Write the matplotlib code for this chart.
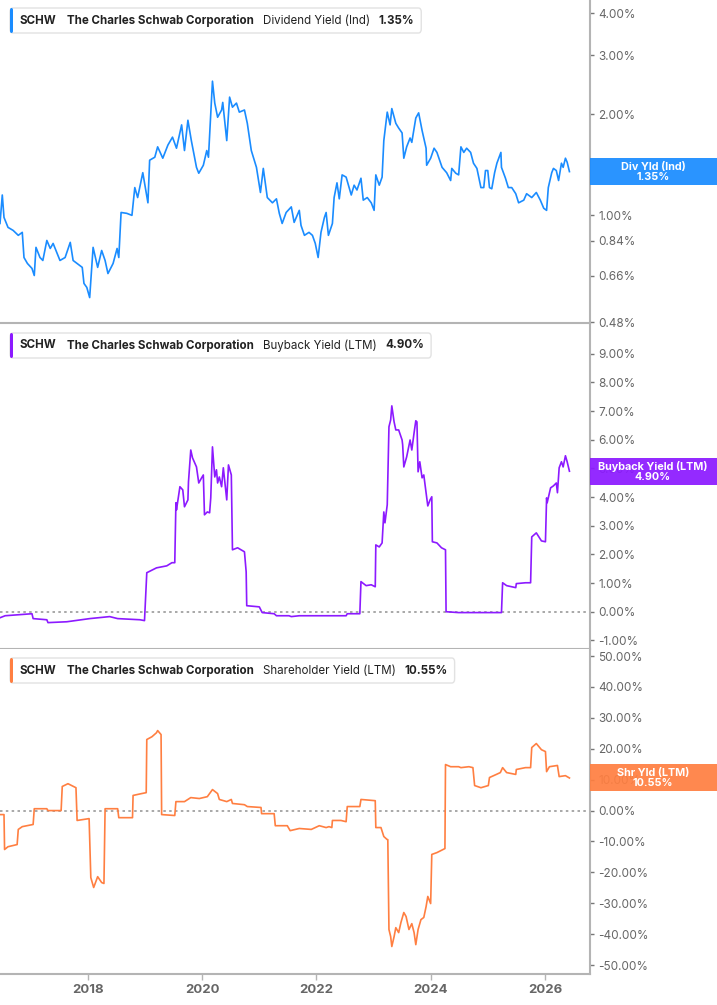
import matplotlib
matplotlib.use('Agg')
import matplotlib.pyplot as plt
from matplotlib.patches import FancyBboxPatch, Rectangle
from matplotlib.ticker import FuncFormatter, FixedLocator, NullLocator

W, H = 717, 1005
plt.rcParams['font.family'] = ['Inter', 'DejaVu Sans']

# dividend yield (indicated), %
div_years = [2016.46, 2016.50, 2016.53, 2016.60, 2016.69, 2016.78, 2016.85, 2016.88, 2016.94, 2017.02,
             2017.06, 2017.09, 2017.16, 2017.21, 2017.28, 2017.34, 2017.39, 2017.46, 2017.51, 2017.60,
             2017.69, 2017.74, 2017.81, 2017.90, 2017.93, 2017.98, 2018.03, 2018.09, 2018.17, 2018.24,
             2018.30, 2018.35, 2018.44, 2018.51, 2018.54, 2018.58, 2018.68, 2018.77, 2018.82, 2018.87,
             2018.96, 2019.05, 2019.08, 2019.17, 2019.22, 2019.31, 2019.40, 2019.48, 2019.55, 2019.64,
             2019.69, 2019.75, 2019.81, 2019.90, 2019.94, 2020.02, 2020.08, 2020.11, 2020.18, 2020.22,
             2020.27, 2020.34, 2020.36, 2020.43, 2020.48, 2020.53, 2020.60, 2020.65, 2020.74, 2020.79,
             2020.86, 2020.95, 2021.02, 2021.07, 2021.14, 2021.23, 2021.30, 2021.35, 2021.40, 2021.47,
             2021.56, 2021.61, 2021.70, 2021.73, 2021.79, 2021.87, 2021.93, 2021.98, 2022.03, 2022.08,
             2022.14, 2022.17, 2022.21, 2022.28, 2022.31, 2022.36, 2022.40, 2022.45, 2022.52, 2022.61,
             2022.66, 2022.71, 2022.78, 2022.82, 2022.89, 2022.96, 2023.01, 2023.04, 2023.10, 2023.15,
             2023.18, 2023.24, 2023.29, 2023.32, 2023.39, 2023.44, 2023.50, 2023.53, 2023.58, 2023.64,
             2023.67, 2023.74, 2023.79, 2023.85, 2023.92, 2023.93, 2024.00, 2024.06, 2024.11, 2024.20,
             2024.28, 2024.35, 2024.37, 2024.44, 2024.49, 2024.53, 2024.58, 2024.63, 2024.70, 2024.75,
             2024.81, 2024.88, 2024.93, 2024.96, 2025.00, 2025.03, 2025.07, 2025.12, 2025.16, 2025.23,
             2025.24, 2025.31, 2025.36, 2025.42, 2025.49, 2025.54, 2025.63, 2025.68, 2025.77, 2025.85,
             2025.92, 2025.98, 2026.03, 2026.06, 2026.12, 2026.15, 2026.20, 2026.24, 2026.29, 2026.32,
             2026.36, 2026.39, 2026.43]
div_vals = [0.946, 1.15, 0.986, 0.921, 0.902, 0.872, 0.890, 0.749, 0.719, 0.695,
            0.662, 0.803, 0.749, 0.734, 0.842, 0.797, 0.825, 0.770, 0.734, 0.749,
            0.831, 0.734, 0.719, 0.700, 0.627, 0.610, 0.569, 0.803, 0.700, 0.786,
            0.734, 0.671, 0.719, 0.797, 0.749, 1.02, 1.014, 1.00, 1.21, 1.13,
            1.34, 1.09, 1.46, 1.49, 1.60, 1.48, 1.62, 1.71, 1.585, 1.86,
            1.56, 1.92, 1.67, 1.39, 1.335, 1.41, 1.56, 1.49, 2.51, 2.16,
            1.96, 2.06, 2.17, 1.67, 2.25, 2.10, 2.16, 2.03, 2.06, 1.88,
            1.56, 1.39, 1.17, 1.38, 1.13, 1.09, 1.12, 1.014, 0.946, 1.02,
            1.06, 0.953, 1.035, 0.934, 0.872, 0.890, 0.872, 0.825, 0.749, 0.890,
            0.986, 1.02, 0.872, 0.946, 1.13, 1.25, 1.12, 1.32, 1.30, 1.15,
            1.23, 1.19, 1.29, 1.11, 1.13, 1.09, 1.035, 1.32, 1.23, 1.30,
            1.67, 2.03, 1.86, 2.08, 1.88, 1.82, 1.76, 1.48, 1.60, 1.70,
            1.65, 1.95, 2.02, 1.79, 1.585, 1.41, 1.48, 1.585, 1.54, 1.39,
            1.34, 1.27, 1.38, 1.335, 1.32, 1.60, 1.54, 1.585, 1.54, 1.43,
            1.38, 1.21, 1.21, 1.36, 1.36, 1.21, 1.20, 1.34, 1.43, 1.54,
            1.39, 1.29, 1.21, 1.21, 1.16, 1.09, 1.11, 1.16, 1.13, 1.17,
            1.11, 1.05, 1.035, 1.21, 1.34, 1.38, 1.36, 1.27, 1.43, 1.39,
            1.48, 1.44, 1.35]

# buyback yield (LTM), %
bb_years = [2016.46, 2016.55, 2017.02, 2017.04, 2017.28, 2017.30, 2017.63, 2018.03, 2018.38, 2018.52,
            2018.91, 2018.99, 2019.03, 2019.20, 2019.38, 2019.47, 2019.52, 2019.54, 2019.55, 2019.61,
            2019.66, 2019.69, 2019.75, 2019.76, 2019.80, 2019.83, 2019.90, 2019.94, 2019.99, 2020.02,
            2020.04, 2020.09, 2020.13, 2020.15, 2020.18, 2020.22, 2020.25, 2020.27, 2020.30, 2020.34,
            2020.37, 2020.43, 2020.46, 2020.51, 2020.53, 2020.62, 2020.74, 2020.77, 2020.78, 2021.00,
            2021.05, 2021.26, 2021.30, 2021.52, 2021.56, 2021.70, 2022.52, 2022.54, 2022.76, 2022.78,
            2022.87, 2022.96, 2023.03, 2023.04, 2023.10, 2023.15, 2023.18, 2023.20, 2023.24, 2023.27,
            2023.30, 2023.32, 2023.36, 2023.39, 2023.44, 2023.50, 2023.51, 2023.53, 2023.58, 2023.64,
            2023.67, 2023.71, 2023.74, 2023.76, 2023.78, 2023.81, 2023.85, 2023.88, 2023.92, 2023.95,
            2023.99, 2024.02, 2024.03, 2024.11, 2024.19, 2024.26, 2024.27, 2024.49, 2025.24, 2025.26,
            2025.33, 2025.49, 2025.50, 2025.66, 2025.75, 2025.77, 2025.85, 2025.94, 2026.01, 2026.03,
            2026.04, 2026.10, 2026.15, 2026.20, 2026.22, 2026.25, 2026.29, 2026.32, 2026.36, 2026.39,
            2026.43]
bb_vals = [-0.21, -0.14, -0.07, -0.24, -0.28, -0.38, -0.35, -0.24, -0.17, -0.24,
           -0.28, -0.31, 1.36, 1.53, 1.60, 1.71, 1.71, 3.80, 3.55, 4.36,
           4.25, 3.66, 3.90, 4.53, 5.64, 5.37, 5.05, 4.49, 4.67, 4.77,
           3.38, 3.48, 3.45, 3.97, 5.75, 4.70, 4.95, 4.49, 4.70, 4.36,
           5.02, 3.90, 5.12, 4.77, 2.16, 2.23, 2.09, 1.39, 0.21, 0.17,
           -0.03, -0.07, -0.14, -0.14, -0.17, -0.14, -0.14, -0.07, -0.07, 1.05,
           0.91, 0.94, 0.87, 2.33, 2.26, 2.40, 3.48, 3.10, 3.73, 6.45,
           6.69, 7.18, 6.62, 6.34, 6.34, 5.99, 5.82, 5.05, 5.40, 5.99,
           5.64, 6.24, 6.66, 6.62, 4.88, 5.23, 4.67, 4.77, 4.15, 3.69,
           3.90, 4.01, 2.44, 2.40, 2.23, 2.16, 0.0, -0.03, -0.03, 1.01,
           0.91, 0.84, 0.98, 1.01, 1.01, 2.61, 2.75, 2.47, 2.44, 3.97,
           3.80, 4.32, 4.39, 4.49, 4.15, 5.02, 5.23, 5.05, 5.44, 5.23,
           4.90]

# shareholder yield (LTM), %
shr_years = [2016.46, 2016.53, 2016.54, 2016.60, 2016.76, 2016.78, 2016.85, 2017.04, 2017.06, 2017.28,
             2017.30, 2017.53, 2017.55, 2017.65, 2017.79, 2017.81, 2018.02, 2018.05, 2018.10, 2018.17,
             2018.24, 2018.28, 2018.30, 2018.52, 2018.54, 2018.78, 2018.79, 2018.94, 2019.02, 2019.03,
             2019.12, 2019.20, 2019.22, 2019.28, 2019.29, 2019.52, 2019.54, 2019.69, 2019.80, 2019.95,
             2020.09, 2020.18, 2020.27, 2020.30, 2020.43, 2020.51, 2020.53, 2020.74, 2020.79, 2021.03,
             2021.04, 2021.26, 2021.28, 2021.49, 2021.54, 2021.70, 2021.91, 2022.05, 2022.17, 2022.22,
             2022.27, 2022.28, 2022.43, 2022.52, 2022.54, 2022.76, 2022.78, 2023.03, 2023.04, 2023.13,
             2023.18, 2023.24, 2023.25, 2023.27, 2023.30, 2023.32, 2023.36, 2023.39, 2023.44, 2023.48,
             2023.53, 2023.57, 2023.62, 2023.67, 2023.71, 2023.74, 2023.78, 2023.83, 2023.88, 2023.92,
             2023.95, 2024.00, 2024.02, 2024.11, 2024.25, 2024.26, 2024.35, 2024.49, 2024.53, 2024.67,
             2024.74, 2024.77, 2024.88, 2025.01, 2025.03, 2025.15, 2025.22, 2025.26, 2025.33, 2025.49,
             2025.50, 2025.66, 2025.75, 2025.77, 2025.85, 2025.94, 2026.01, 2026.03, 2026.08, 2026.22,
             2026.25, 2026.36, 2026.43]
shr_vals = [-1.3, -1.3, -12.6, -11.7, -11.0, -6.1, -5.2, -4.5, 0.6, 0.6,
            0.0, 0.0, 7.8, 8.7, 7.4, -3.2, -2.6, -21.7, -24.9, -21.4,
            -23.3, -23.6, 0.6, 0.6, -2.3, -2.3, 4.9, 5.5, 5.8, 23.0,
            23.9, 25.2, 25.9, 24.6, -1.3, -1.6, 2.9, 2.9, 4.2, 3.9,
            4.5, 6.8, 5.5, 3.6, 2.9, 3.6, 2.3, 1.9, 1.3, 1.0,
            -1.0, -1.0, -4.9, -4.9, -6.5, -5.8, -6.1, -4.9, -5.5, -5.2,
            -5.5, -3.2, -3.2, -3.6, 1.3, 1.3, 3.6, 3.2, -5.5, -5.5,
            -8.4, -9.4, -9.4, -38.5, -40.8, -44.0, -40.8, -37.9, -39.5, -36.2,
            -33.0, -34.3, -38.5, -36.6, -39.5, -43.4, -38.5, -35.3, -34.6, -31.1,
            -27.8, -30.1, -14.2, -13.6, -12.3, 14.9, 14.2, 14.2, 13.9, 14.2,
            13.9, 8.1, 7.4, 8.1, 10.7, 11.7, 12.3, 13.9, 12.3, 11.7,
            13.3, 13.9, 13.9, 20.4, 21.7, 19.7, 19.1, 12.6, 14.2, 14.6,
            11.0, 11.3, 10.55]

div_ticks = [0.48, 0.66, 0.84, 1.0, 2.0, 3.0, 4.0]
bb_ticks = [-1, 0, 1, 2, 3, 4, 5, 6, 7, 8, 9]
shr_ticks = [-50, -40, -30, -20, -10, 0, 10, 20, 30, 40, 50]
year_ticks = [2018, 2020, 2022, 2024, 2026]

BLUE = '#1a8cff'
PURPLE = '#8c1aff'
ORANGE = '#ff7f41'
GRID = '#b4b4b4'

fig = plt.figure(figsize=(W / 100, H / 100), dpi=100)


def make_axes(top, bottom):
    return fig.add_axes([0, 1 - bottom / H, 590 / W, (bottom - top) / H])


def style_axes(ax, ticks):
    for s in ['top', 'left']:
        ax.spines[s].set_visible(False)
    for s in ['right', 'bottom']:
        ax.spines[s].set_color(GRID)
        ax.spines[s].set_linewidth(1.5)
    ax.yaxis.tick_right()
    ax.yaxis.set_major_locator(FixedLocator(ticks))
    ax.yaxis.set_minor_locator(NullLocator())
    ax.yaxis.set_major_formatter(FuncFormatter(lambda v, p: '%.2f%%' % v))
    ax.tick_params(axis='y', which='both', length=3, width=1, color='#777777',
                   labelsize=8.5, labelcolor='#666666', pad=3)
    ax.set_xlim(2016.46, 2026.79)
    ax.set_xticks(year_ticks)
    ax.tick_params(axis='x', length=4, width=1, color=GRID, labelsize=9.5,
                   labelcolor='#666666', pad=3)
    for lab in ax.get_xticklabels():
        lab.set_fontweight('bold')


ax1 = make_axes(0, 323)
ax2 = make_axes(325, 649)
ax3 = make_axes(649, 974)

ax1.set_yscale('log')
ax1.plot(div_years, div_vals, color=BLUE, lw=1.2)
style_axes(ax1, div_ticks)
ax1.set_ylim(0.478, 4.38)
ax1.tick_params(axis='x', bottom=False, labelbottom=False)

ax2.plot(bb_years, bb_vals, color=PURPLE, lw=1.2)
ax2.axhline(0, color='#999999', lw=1.2, ls=(0, (1.5, 2)), zorder=0)
style_axes(ax2, bb_ticks)
ax2.set_ylim(-1.3, 10.0)
ax2.tick_params(axis='x', bottom=False, labelbottom=False)

ax3.plot(shr_years, shr_vals, color=ORANGE, lw=1.2)
ax3.axhline(0, color='#999999', lw=1.2, ls=(0, (1.5, 2)), zorder=0)
style_axes(ax3, shr_ticks)
ax3.set_ylim(-52.9, 52.3)

fig.canvas.draw()
renderer = fig.canvas.get_renderer()


def legend_box(ytop, color, metric, value):
    yc = ytop + 12.5
    parts = [('SCHW', 'bold', 10), ('The Charles Schwab Corporation', 'bold', 9),
             (metric, 'normal', 9), (value, 'bold', 0)]
    x = 20
    for s, w, gap in parts:
        t = fig.text(x / W, 1 - yc / H, s, fontsize=8.3, fontweight=w, color='#222222',
                     va='center', ha='left', zorder=5)
        x += t.get_window_extent(renderer).width + gap
    right = x + 7
    box = FancyBboxPatch((10 / W, 1 - (ytop + 25) / H), (right - 10) / W, 25 / H,
                         boxstyle='round,pad=0,rounding_size=0.004', transform=fig.transFigure,
                         facecolor='white', edgecolor='#e2e2e2', lw=1, zorder=3)
    fig.add_artist(box)
    bar = FancyBboxPatch((10 / W, 1 - (ytop + 25) / H), 3 / W, 25 / H,
                         boxstyle='round,pad=0,rounding_size=0.002', transform=fig.transFigure,
                         facecolor=color, edgecolor='none', zorder=4)
    fig.add_artist(bar)


def callout(ax, val, color, label):
    yd = ax.transData.transform((2020, val))[1]
    rect = Rectangle((590 / W, (yd - 13.5) / H), 127 / W, 27 / H, transform=fig.transFigure,
                     facecolor=color, edgecolor='none', alpha=0.93, zorder=3)
    fig.add_artist(rect)
    fig.text(653 / W, yd / H, label, color='white', fontsize=7.8, fontweight='bold',
             ha='center', va='center', linespacing=1.0, zorder=4)


legend_box(8, BLUE, 'Dividend Yield (Ind)', '1.35%')
legend_box(333, PURPLE, 'Buyback Yield (LTM)', '4.90%')
legend_box(658, ORANGE, 'Shareholder Yield (LTM)', '10.55%')

callout(ax1, div_vals[-1], BLUE, 'Div Yld (Ind)\n1.35%')
callout(ax2, bb_vals[-1], PURPLE, 'Buyback Yield (LTM)\n4.90%')
callout(ax3, shr_vals[-1], ORANGE, 'Shr Yld (LTM)\n10.55%')

fig.savefig('out.png', dpi=100)
